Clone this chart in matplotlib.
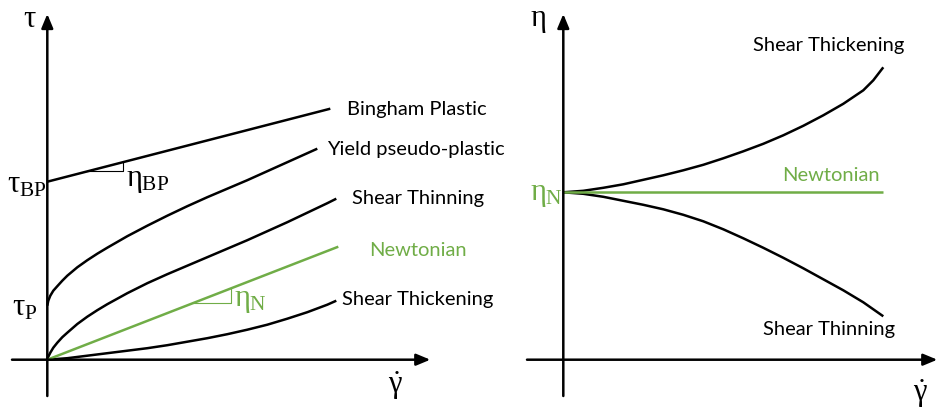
import numpy as np
import matplotlib
matplotlib.use("Agg")
import matplotlib.pyplot as plt

# upright serif symbols for the math labels
plt.rcParams['mathtext.fontset'] = 'custom'
plt.rcParams['mathtext.rm'] = 'Liberation Serif'
plt.rcParams['mathtext.it'] = 'Liberation Serif'
plt.rcParams['mathtext.bf'] = 'Liberation Serif'
plt.rcParams['font.family'] = ['Lato', 'DejaVu Sans']

GREEN = '#70AD47'

# --- flow curves: shear stress vs shear rate (arbitrary units) ---
bp_rate = [0.0, 2.83]
bp_stress = [1.78, 2.51]

ypp_rate = [0.0, 0.01, 0.03, 0.06, 0.1, 0.15, 0.2, 0.3, 0.4, 0.5, 0.6, 0.8,
            1.0, 1.2, 1.4, 1.6, 1.8, 2.0, 2.2, 2.4, 2.6, 2.7]
ypp_stress = [0.54, 0.59, 0.64, 0.69, 0.735, 0.79, 0.84, 0.924, 0.995, 1.06,
              1.12, 1.235, 1.34, 1.44, 1.535, 1.625, 1.71, 1.795, 1.885,
              1.975, 2.065, 2.11]

thin_rate = [0.0, 0.01, 0.03, 0.06, 0.1, 0.15, 0.2, 0.3, 0.4, 0.5, 0.6, 0.8,
             1.0, 1.2, 1.4, 1.6, 1.8, 2.0, 2.2, 2.4, 2.6, 2.8, 2.89]
thin_stress = [0.0, 0.03, 0.07, 0.12, 0.17, 0.225, 0.27, 0.357, 0.43, 0.495,
               0.555, 0.665, 0.765, 0.855, 0.94, 1.025, 1.11, 1.195, 1.285,
               1.375, 1.47, 1.565, 1.61]

newt_rate = [0.0, 2.91]
newt_stress = [0.0, 1.13]

thick_rate = [0.0, 0.2, 0.4, 0.6, 0.8, 1.0, 1.2, 1.4, 1.6, 1.8, 2.0, 2.2,
              2.4, 2.6, 2.8, 2.89]
thick_stress = [0.0, 0.015, 0.04, 0.065, 0.09, 0.115, 0.145, 0.18, 0.215,
                0.255, 0.3, 0.35, 0.41, 0.475, 0.55, 0.59]

# --- viscosity curves: viscosity vs shear rate ---
eta_rate = [0.0, 0.2, 0.4, 0.6, 0.8, 1.0, 1.2, 1.4, 1.6, 1.8, 2.0, 2.2, 2.4,
            2.6, 2.8, 3.0, 3.1, 3.2]
eta_newt = [1.674] * len(eta_rate)
eta_thick = [1.674, 1.689, 1.719, 1.754, 1.799, 1.844, 1.894, 1.949, 2.014,
             2.084, 2.159, 2.244, 2.339, 2.444, 2.559, 2.694, 2.794, 2.924]
eta_thin = [1.674, 1.659, 1.629, 1.589, 1.549, 1.504, 1.449, 1.384, 1.304,
            1.214, 1.119, 1.019, 0.914, 0.804, 0.694, 0.574, 0.504, 0.434]

LW = 1.8
fig = plt.figure(figsize=(9.38, 4.10), dpi=100)
ax1 = fig.add_axes([0, 0, 0.5, 1])
ax2 = fig.add_axes([0.5, 0, 0.5, 1])
ax1.set_xlim(-0.473, 4.217)
ax2.set_xlim(-0.943, 3.747)
for ax in (ax1, ax2):
    ax.set_ylim(-0.493, 3.607)
    ax.axis('off')


def draw_axes(ax, x0, x1, y0, y1):
    arrow = dict(arrowstyle='-|>,head_length=0.6,head_width=0.25', lw=LW,
                 color='black', mutation_scale=14, shrinkA=0, shrinkB=0)
    ax.annotate('', xy=(x1, 0), xytext=(x0, 0), arrowprops=arrow)
    ax.annotate('', xy=(0, y1), xytext=(0, y0), arrowprops=arrow)


def slope_marker(ax, rate, stress, xa, xb, color):
    ya = np.interp(xa, rate, stress)
    yb = np.interp(xb, rate, stress)
    ax.plot([xa, xb, xb], [ya, ya, yb], color=color, lw=0.8)


curve = dict(lw=LW, solid_capstyle='butt', solid_joinstyle='round')

# left panel: flow curves
draw_axes(ax1, -0.353, 3.83, -0.363, 3.457)
ax1.plot(bp_rate, bp_stress, color='black', **curve)
ax1.plot(ypp_rate, ypp_stress, color='black', **curve)
ax1.plot(thin_rate, thin_stress, color='black', **curve)
ax1.plot(thick_rate, thick_stress, color='black', **curve)
ax1.plot(newt_rate, newt_stress, color=GREEN, **curve)
slope_marker(ax1, bp_rate, bp_stress, 0.40, 0.76, 'black')
slope_marker(ax1, newt_rate, newt_stress, 1.46, 1.84, GREEN)

fs = 14.5
ax1.text(3.0, 2.514, 'Bingham Plastic', fontsize=fs, va='center')
ax1.text(2.8, 2.107, 'Yield pseudo-plastic', fontsize=fs, va='center')
ax1.text(3.044, 1.624, 'Shear Thinning', fontsize=fs, va='center')
ax1.text(3.22, 1.107, 'Newtonian', fontsize=fs, va='center', color=GREEN)
ax1.text(2.944, 0.607, 'Shear Thickening', fontsize=fs, va='center')

gs = 22
ax1.text(-0.173, 3.43, r'$\tau$', fontsize=gs, ha='center', va='center')
ax1.text(-0.40, 1.76, r'$\tau_{\mathrm{BP}}$', fontsize=gs, ha='left', va='center')
ax1.text(-0.35, 0.53, r'$\tau_{\mathrm{P}}$', fontsize=gs, ha='left', va='center')
ax1.text(0.79, 1.80, r'$\eta_{\mathrm{BP}}$', fontsize=gs, ha='left', va='center')
ax1.text(1.87, 0.60, r'$\eta_{\mathrm{N}}$', fontsize=gs, ha='left', va='center', color=GREEN)
ax1.text(3.477, -0.25, r'$\dot{\gamma}$', fontsize=gs, ha='center', va='center')

# right panel: viscosity curves
draw_axes(ax2, -0.363, 3.74, -0.363, 3.457)
ax2.plot(eta_rate, eta_thick, color='black', **curve)
ax2.plot(eta_rate, eta_thin, color='black', **curve)
ax2.plot(eta_rate, eta_newt, color=GREEN, **curve)

ax2.text(1.897, 3.157, 'Shear Thickening', fontsize=fs, va='center')
ax2.text(2.184, 1.857, 'Newtonian', fontsize=fs, va='center', color=GREEN)
ax2.text(1.997, 0.307, 'Shear Thinning', fontsize=fs, va='center')

ax2.text(-0.253, 3.40, r'$\eta$', fontsize=gs, ha='center', va='center')
ax2.text(-0.33, 1.66, r'$\eta_{\mathrm{N}}$', fontsize=gs, ha='left', va='center', color=GREEN)
ax2.text(3.567, -0.33, r'$\dot{\gamma}$', fontsize=gs, ha='center', va='center')

fig.savefig('out.png', dpi=100)
